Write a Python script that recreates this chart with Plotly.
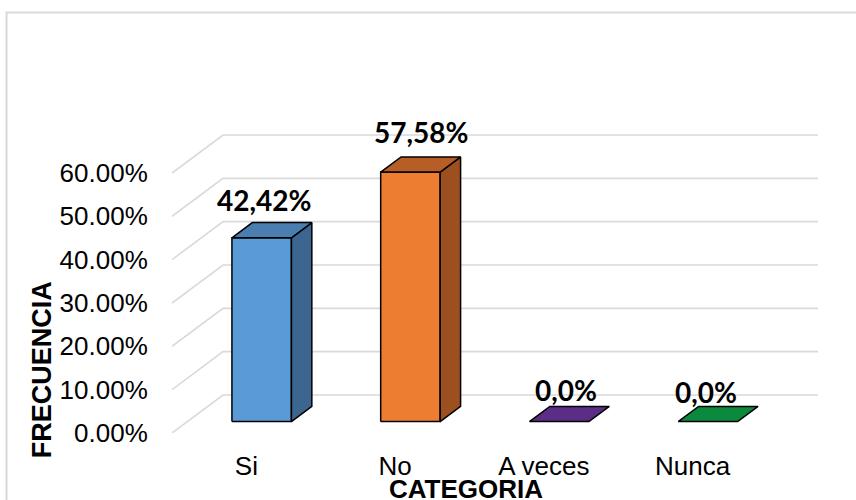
import plotly.graph_objects as go

# Survey results
categories = ["Si", "No", "A veces", "Nunca"]
values = [42.42, 57.58, 0.0, 0.0]
value_labels = ["42,42%", "57,58%", "0,0%", "0,0%"]
y_ticks = [0, 10, 20, 30, 40, 50, 60]
y_tick_labels = ["0.00%", "10.00%", "20.00%", "30.00%", "40.00%", "50.00%", "60.00%"]

# Face colours per bar: front, top, side
front_colors = ["#5b9bd5", "#ed7d31", "#5b2d86", "#0b8a3e"]
top_colors = ["#4a7db0", "#b65e25", "#5b2d86", "#0b8a3e"]
side_colors = ["#3c6690", "#9c5020", "#4a2370", "#087030"]

# Pseudo-3D projection: full depth of the floor in axis units
DX = 0.343   # horizontal shift (category units) from front to back wall
DY = 8.77    # vertical shift (percent units) from front to back wall
D0, D1 = 0.30, 0.70   # depth span occupied by each bar
HALF = 0.2            # half bar width (category units)

# label offsets (category units / percent units)
label_dx = [0.117, 0.177, 0.149, 0.09]
label_dy = [11.4, 11.8, 9.9, 9.5]

n = len(categories)
X_LO, X_HI = -0.5, n - 0.5

fig = go.Figure()

# Gridlines: oblique segment on the side wall, then horizontal on the back wall
for v in y_ticks:
    fig.add_trace(go.Scatter(
        x=[X_LO, X_LO + DX, X_HI + DX],
        y=[v, v + DY, v + DY],
        mode="lines", line=dict(color="#d9d9d9", width=1.6),
        hoverinfo="skip", showlegend=False))


def face(xs, ys, color):
    fig.add_trace(go.Scatter(
        x=xs + [xs[0]], y=ys + [ys[0]], mode="lines", fill="toself",
        fillcolor=color, line=dict(color="#000000", width=1.5),
        hoverinfo="skip", showlegend=False))


for i, v in enumerate(values):
    xl0 = i - HALF + D0 * DX
    xr0 = i + HALF + D0 * DX
    xl1 = i - HALF + D1 * DX
    xr1 = i + HALF + D1 * DX
    yb0 = D0 * DY
    yb1 = D1 * DY
    if v > 0:
        # front face
        face([xl0, xr0, xr0, xl0], [yb0, yb0, yb0 + v, yb0 + v], front_colors[i])
        # right side face
        face([xr0, xr1, xr1, xr0], [yb0, yb1, yb1 + v, yb0 + v], side_colors[i])
    # top face
    face([xl0, xr0, xr1, xl1], [yb0 + v, yb0 + v, yb1 + v, yb1 + v], top_colors[i])

annotations = []
for i, v in enumerate(values):
    annotations.append(dict(
        x=i + label_dx[i], y=v + label_dy[i], xref="x", yref="y",
        xanchor="center", yanchor="middle",
        text="<b>" + value_labels[i] + "</b>", showarrow=False,
        font=dict(family="Lato, Open Sans, sans-serif", size=28, color="#000000")))

annotations.append(dict(
    x=0.447, y=-0.18, xref="paper", yref="paper",
    xanchor="center", yanchor="middle",
    text="<b>CATEGORIA</b>", showarrow=False,
    font=dict(family="Liberation Sans, Arial, sans-serif", size=26, color="#000000")))
annotations.append(dict(
    x=-0.197, y=0.202, xref="paper", yref="paper", textangle=-90,
    xanchor="center", yanchor="middle",
    text="<b>FRECUENCIA</b>", showarrow=False,
    font=dict(family="Liberation Sans, Arial, sans-serif", size=27, color="#000000")))

fig.update_layout(
    width=856, height=500,
    margin=dict(l=172, r=26, t=121, b=67),
    paper_bgcolor="#ffffff", plot_bgcolor="#ffffff",
    showlegend=False,
    annotations=annotations,
    shapes=[dict(type="rect", xref="paper", yref="paper",
                 x0=-0.2515, x1=1.5, y0=-0.6, y1=1.3478,
                 line=dict(color="#d9d9d9", width=2), fillcolor="rgba(0,0,0,0)",
                 layer="below")],
    font=dict(family="Liberation Sans, Arial, sans-serif", size=25, color="#000000"),
)

fig.update_xaxes(
    range=[X_LO, X_LO + 658 / 148.75],
    tickvals=list(range(n)), ticktext=categories,
    showgrid=False, zeroline=False, showline=False,
    ticks="outside", ticklen=10, tickcolor="rgba(0,0,0,0)",
    tickfont=dict(size=26, color="#000000"), fixedrange=True)

fig.update_yaxes(
    range=[0, 72],
    tickvals=y_ticks, ticktext=y_tick_labels,
    showgrid=False, zeroline=False, showline=False,
    ticks="outside", ticklen=18, tickcolor="rgba(0,0,0,0)",
    tickfont=dict(size=26, color="#000000"), fixedrange=True)

fig.write_html("out.html")
